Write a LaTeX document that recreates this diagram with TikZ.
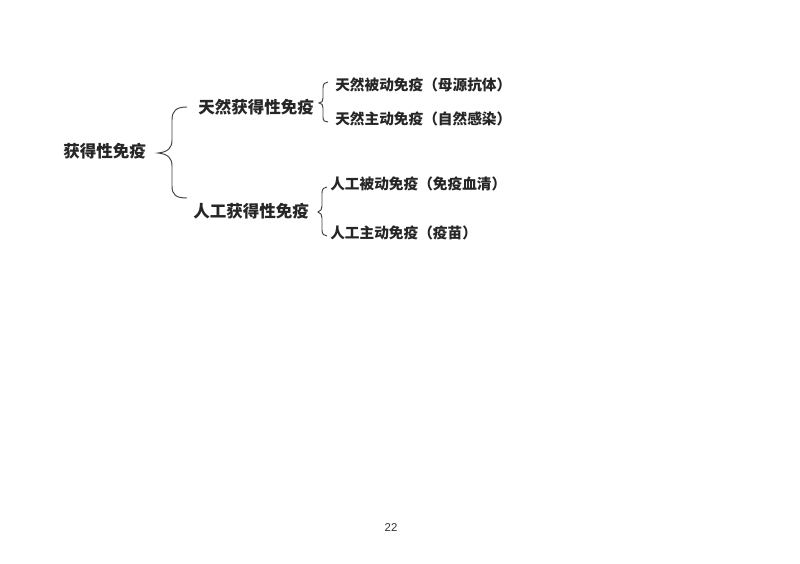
\documentclass[tikz,border=0pt]{standalone}
\usepackage{fontspec}
\newfontfamily\cjk{Noto Sans CJK SC}
\setsansfont{Liberation Sans}
\begin{document}
\begin{tikzpicture}[x=0.75pt,y=-0.75pt,
  lvlone/.style={font=\cjk\bfseries\fontsize{12.4}{14}\selectfont,text=black!85,inner sep=0pt,anchor=west},
  lvltwo/.style={font=\cjk\bfseries\fontsize{11}{13}\selectfont,text=black!85,inner sep=0pt,anchor=west},
  bracepath/.style={draw=black!75,line width=0.7pt}]
\useasboundingbox (0,0) rectangle (800,564);
\fill[white] (0,0) rectangle (800,564);
\node[lvlone] (root) at (63,151) {获得性免疫};
\node[lvlone] (nat) at (198,107) {天然获得性免疫};
\node[lvlone] (art) at (193,211) {人工获得性免疫};
\node[lvltwo] (n1) at (335,85) {天然被动免疫（母源抗体）};
\node[lvltwo] (n2) at (335,119) {天然主动免疫（自然感染）};
\node[lvltwo] (a1) at (330,184) {人工被动免疫（免疫血清）};
\node[lvltwo] (a2) at (330,233) {人工主动免疫（疫苗）};
\node[font=\sffamily\fontsize{8.5}{10}\selectfont,text=black!80,inner sep=0pt] (page) at (391,528) {22};
% big brace
\draw[bracepath] (187,107) .. controls (176,107) and (172,111) .. (172,120) -- (172,140)
  .. controls (172,148) and (168,152) .. (158,153)
  .. controls (168,154) and (172,158) .. (172,166) -- (172,186)
  .. controls (172,195) and (176,198) .. (187,198);
% small brace 1
\draw[bracepath] (328,82) .. controls (325,82) and (323,84) .. (323,88) -- (323,98)
  .. controls (323,101) and (322,103) .. (319,103)
  .. controls (322,103) and (323,105) .. (323,108) -- (323,117)
  .. controls (323,121) and (325,122) .. (328,122);
% small brace 2
\draw[bracepath] (327,187) .. controls (324,187) and (322,189) .. (322,193) -- (322,206)
  .. controls (322,209) and (321,211) .. (318,212)
  .. controls (321,213) and (322,215) .. (322,218) -- (322,230)
  .. controls (322,234) and (324,236) .. (327,236);
\end{tikzpicture}
\end{document}
